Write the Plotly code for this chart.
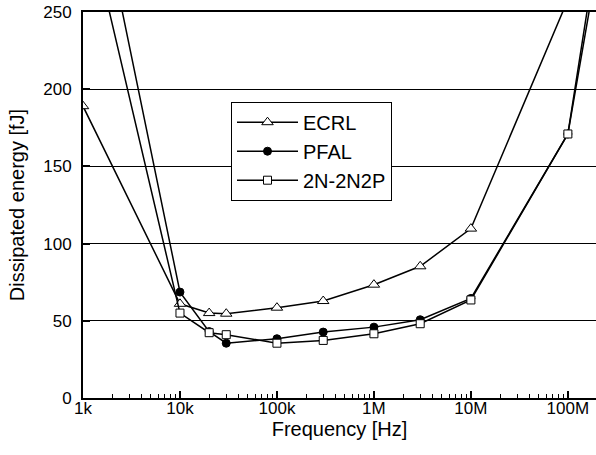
import plotly.graph_objects as go

freq = [1e3, 1e4, 2e4, 3e4, 1e5, 3e5, 1e6, 3e6, 1e7, 1e8, 2e8]
ecrl = [189, 61, 55, 54.6, 58.5, 62.8, 73.4, 85.3, 109.7, 258, None]
pfal = [374, 68.6, 43, 35.5, 38.4, 42.7, 45.9, 50.7, 64.5, 171, 292]
n2p = [323, 55, 42.3, 41, 35.5, 37.3, 41.6, 48.1, 63.5, 171, 280]

xtick_vals = [1e3, 1e4, 1e5, 1e6, 1e7, 1e8]
xtick_text = ["1k", "10k", "100k", "1M", "10M", "100M"]
ytick_vals = [0, 50, 100, 150, 200, 250]

FONT = "Liberation Sans, Arial, sans-serif"

fig = go.Figure()
fig.add_trace(go.Scatter(
    x=freq, y=ecrl, name="ECRL", mode="lines+markers",
    line=dict(color="black", width=1.5),
    marker=dict(symbol="triangle-up", size=10, color="white",
                line=dict(color="black", width=1)),
))
fig.add_trace(go.Scatter(
    x=freq, y=pfal, name="PFAL", mode="lines+markers",
    line=dict(color="black", width=1.5),
    marker=dict(symbol="circle", size=8, color="black",
                line=dict(color="black", width=1)),
))
fig.add_trace(go.Scatter(
    x=freq, y=n2p, name="2N-2N2P", mode="lines+markers",
    line=dict(color="black", width=1.5),
    marker=dict(symbol="square", size=8, color="white",
                line=dict(color="black", width=1)),
))

minor_vals = [m * 10 ** d for d in range(3, 9) for m in range(2, 10)]

L, R, T, B = 83, 0, 12, 57
PW, PH = 596 - L - R, 455 - T - B

fig.update_layout(
    width=596, height=455,
    margin=dict(l=L, r=R, t=T, b=B, autoexpand=False),
    paper_bgcolor="white", plot_bgcolor="white",
    font=dict(family=FONT, size=17, color="black"),
    showlegend=True,
    legend=dict(
        x=(231 - L) / PW, y=(455 - B - 101.7) / PH, xanchor="left", yanchor="top",
        bgcolor="white", bordercolor="black", borderwidth=1,
        font=dict(family=FONT, size=20, color="black"),
        tracegroupgap=0, itemwidth=61,
    ),
    xaxis=dict(
        type="log", range=[3, 8.29], automargin=False,
        tickvals=xtick_vals, ticktext=xtick_text,
        ticks="inside", ticklen=7, tickwidth=1.5, tickcolor="black",
        showline=True, linecolor="black", linewidth=2, mirror=True,
        showgrid=False, zeroline=False, ticklabelstandoff=-6,
        minor=dict(tickvals=minor_vals, ticks="inside", ticklen=4,
                   tickwidth=1.2, tickcolor="black", showgrid=False),
        title=dict(text="Frequency [Hz]", font=dict(size=20), standoff=3),
    ),
    yaxis=dict(
        range=[0, 250], tickvals=ytick_vals, automargin=False,
        ticks="inside", ticklen=7, tickwidth=2, tickcolor="black",
        showline=True, linecolor="black", linewidth=2,
        showgrid=True, gridcolor="black", gridwidth=1,
        zeroline=False, ticklabelstandoff=6,
        title=dict(text="Dissipated energy [fJ]", font=dict(size=20), standoff=13),
    ),
    yaxis2=dict(
        range=[0, 250], tickvals=ytick_vals, overlaying="y", side="right",
        automargin=False,
        ticks="inside", ticklen=6, tickwidth=2, tickcolor="black",
        showline=False, showgrid=False, showticklabels=False, zeroline=False,
    ),
)

fig.write_html(
    "out.html",
    config={"displayModeBar": False},
    post_script="document.body.style.margin='0';document.body.style.overflow='hidden';",
)
